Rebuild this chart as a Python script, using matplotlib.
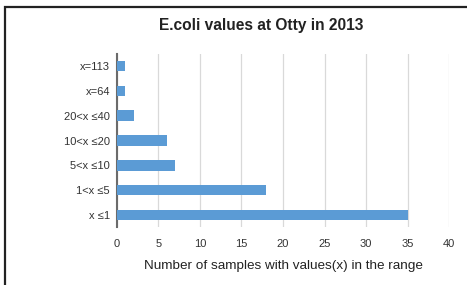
import matplotlib
matplotlib.use('Agg')
import matplotlib.pyplot as plt
from matplotlib.patches import Rectangle

plt.rcParams['font.family'] = ['Liberation Sans', 'DejaVu Sans']

categories = ['x \u22641', '1<x \u22645', '5<x \u226410', '10<x \u226420', '20<x \u226440', 'x=64', 'x=113']
counts = [35, 18, 7, 6, 2, 1, 1]
xticks = [0, 5, 10, 15, 20, 25, 30, 35, 40]

fig = plt.figure(figsize=(4.67, 2.85), dpi=100)
ax = fig.add_axes([0.2505, 0.202, 0.711, 0.610])

# outer chart frame (only left/top visible in the crop)
fig.patches.append(Rectangle((5 / 467, -0.1), 1.2, 1 - 7 / 285 + 0.1, transform=fig.transFigure,
                             fill=False, edgecolor='#222222', linewidth=1.6))

ax.barh(range(len(categories)), counts, height=0.42, color='#5b9bd5', zorder=3)
ax.set_yticks(range(len(categories)))
ax.set_yticklabels(categories, fontsize=8, color='#333333')
ax.set_xticks(xticks)
ax.set_xticklabels([str(t) for t in xticks], fontsize=8, color='#333333')
ax.set_xlim(0, 40)
ax.set_ylim(-0.5, len(categories) - 0.5)
ax.grid(axis='x', color='#d9d9d9', linewidth=0.9, zorder=0)
for s in ['top', 'right', 'bottom']:
    ax.spines[s].set_visible(False)
ax.spines['left'].set_color('#6b6b6b')
ax.spines['left'].set_linewidth(1.5)
ax.tick_params(axis='y', length=0, pad=5)
ax.tick_params(axis='x', length=0, pad=8)
ax.set_xlabel('Number of samples with values(x) in the range', fontsize=9.7, color='#222222', labelpad=8)
fig.text(0.56, 0.91, 'E.coli values at Otty in 2013', ha='center', va='center',
         fontsize=11.2, fontweight='bold', color='#222222')

fig.savefig('out.png', dpi=100)
